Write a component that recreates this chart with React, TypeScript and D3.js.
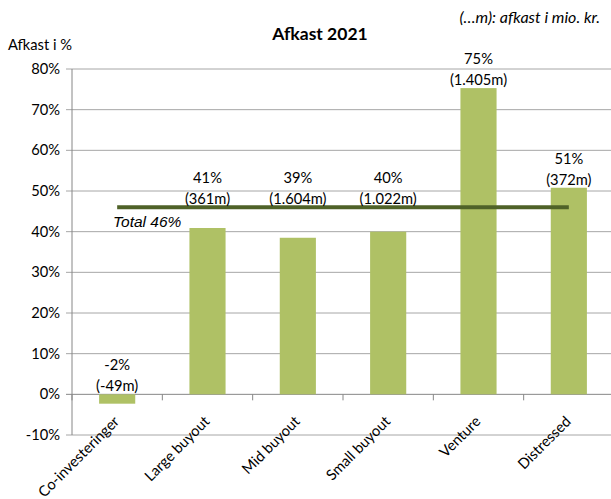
import React from "react";
import * as d3 from "d3";

const categories = ["Co-investeringer", "Large buyout", "Mid buyout", "Small buyout", "Venture", "Distressed"];
const returnsPct = [-2.3, 40.9, 38.5, 40.0, 75.3, 50.8];
const pctLabels = ["-2%", "41%", "39%", "40%", "75%", "51%"];
const amountLabels = ["(-49m)", "(361m)", "(1.604m)", "(1.022m)", "(1.405m)", "(372m)"];
const totalPct = 46;
const totalLabel = "Total 46%";
const yTicks = [-10, 0, 10, 20, 30, 40, 50, 60, 70, 80];

const W = 611, H = 499;
const left = 72, right = 614, top = 69, bottom = 435;

export default function App() {
  const x = d3.scaleBand<string>().domain(categories).range([left, right]).paddingInner(0.6).paddingOuter(0.3);
  const xb = d3.scaleBand<string>().domain(categories).range([left, right]);
  const y = d3.scaleLinear().domain([-10, 80]).range([bottom, top]);
  const font = "Lato, 'Open Sans', sans-serif";
  const grid = "#a6a6a6";
  const axis = "#868686";
  const fs = 14.7;
  return (
    <svg width={W} height={H} style={{ position: "absolute", left: 0, top: 0 }} fontFamily={font}>
      <rect width={W} height={H} fill="#fff" />
      {yTicks.map((t) => (
        <g key={t}>
          <line x1={left - 6} x2={right} y1={y(t)} y2={y(t)} stroke={t === 0 ? axis : grid} strokeWidth={1} />
          <text x={left - 12} y={y(t)} dy="0.35em" textAnchor="end" fontSize={fs} fill="#000">{t}%</text>
        </g>
      ))}
      <line x1={left} x2={left} y1={top} y2={bottom} stroke={axis} />
      {categories.map((c) => (
        <line key={c} x1={xb(c)!} x2={xb(c)!} y1={y(0)} y2={y(0) + 6} stroke={axis} />
      ))}
      {categories.map((c, i) => {
        const v = returnsPct[i];
        return (
          <rect key={c} x={x(c)!} width={x.bandwidth()} y={y(Math.max(v, 0))}
            height={Math.abs(y(v) - y(0))} fill="#afc165" />
        );
      })}
      <line x1={x(categories[0])! + x.bandwidth() / 2} x2={x(categories[categories.length - 1])! + x.bandwidth() / 2}
        y1={y(totalPct)} y2={y(totalPct)} stroke="#4f6228" strokeWidth={4} />
      <text x={113} y={y(totalPct) + 20} fontSize={15.5} fontStyle="italic" fontFamily="'Liberation Sans', Arial, sans-serif">{totalLabel}</text>
      {categories.map((c, i) => {
        const v = returnsPct[i];
        const cx = x(c)! + x.bandwidth() / 2;
        let anchor = y(Math.max(v, 0));
        if (v < totalPct && v > totalPct - 10) anchor = y(totalPct);
        return (
          <g key={c} fontSize={fs} textAnchor="middle">
            <text x={cx} y={anchor - 24}>{pctLabels[i]}</text>
            <text x={cx} y={anchor - 3}>{amountLabels[i]}</text>
          </g>
        );
      })}
      {categories.map((c) => {
        const cx = x(c)! + x.bandwidth() / 2 + 3;
        const ty = y(0) + 28;
        return (
          <text key={c} x={cx} y={ty} fontSize={fs} textAnchor="end" transform={`rotate(-45 ${cx} ${ty})`}>{c}</text>
        );
      })}
      <text x={320} y={40} fontSize={17.5} fontWeight="bold" textAnchor="middle">Afkast 2021</text>
      <text x={8} y={50} fontSize={fs}>Afkast i %</text>
      <text x={600} y={23} fontSize={16} fontStyle="italic" textAnchor="end">(…m): afkast i mio. kr.</text>
    </svg>
  );
}
